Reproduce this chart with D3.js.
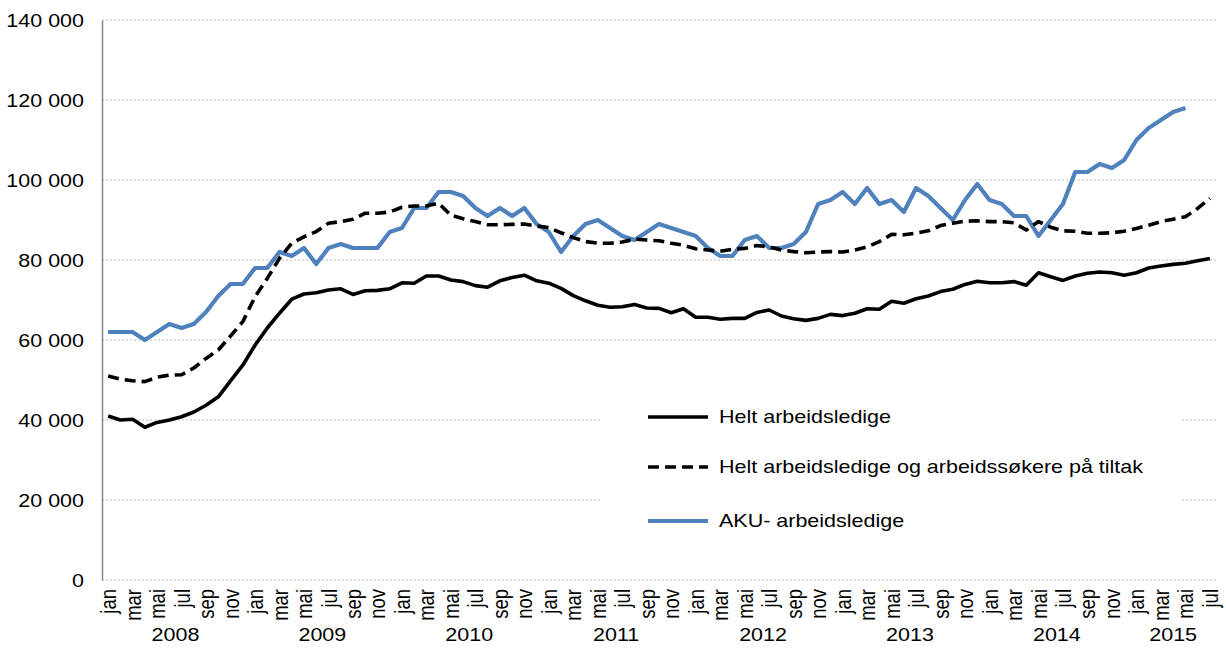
<!DOCTYPE html>
<html><head><meta charset="utf-8">
<script src="https://cdn.jsdelivr.net/npm/d3@7/dist/d3.min.js"></script>
<style>html,body{margin:0;padding:0;background:#fff;}svg{display:block;font-family:"Liberation Sans",Arial,sans-serif;}</style>
</head><body>
<svg id="c" width="1226" height="666"></svg>
<script>
const monthNames = ["jan","feb","mar","apr","mai","jun","jul","aug","sep","okt","nov","des"];
const years = ["2008","2009","2010","2011","2012","2013","2014","2015"];
const yTicks = [0,20000,40000,60000,80000,100000,120000,140000];
const seriesNames = ["Helt arbeidsledige","Helt arbeidsledige og arbeidssøkere på tiltak","AKU- arbeidsledige"];

const helt = [
41000,40000,40200,38200,39400,40000,40800,42000,43700,45800,49800,53700,
58700,63000,66700,70200,71500,71800,72500,72800,71400,72300,72400,72800,
74300,74200,76000,76000,75000,74600,73600,73200,74800,75600,76200,74800,
74200,72900,71100,69800,68700,68200,68300,68900,68000,67900,66800,67800,
65700,65700,65200,65400,65400,66900,67500,66000,65300,64900,65400,66400,
66100,66700,67800,67700,69700,69200,70300,71000,72100,72700,73900,74700,
74300,74300,74600,73700,76800,75800,74900,76000,76700,77000,76800,76200,
76800,78000,78500,78900,79200,79800,80400];
const tiltak = [
51000,50200,49800,49600,50700,51200,51300,53000,55400,57500,61000,64600,
70800,75400,80400,84200,85800,87100,89200,89600,90200,91700,91700,92000,
93200,93500,93500,94200,91200,90300,89600,88800,88800,88900,89000,88500,
88100,86800,85600,84600,84200,84200,84500,85200,85000,84800,84200,83700,
82800,82500,82200,82700,82900,83600,83300,82500,82100,81800,82000,82100,
82000,82500,83300,84600,86400,86300,86700,87300,88600,89200,89700,89800,
89600,89600,89300,87500,89600,88200,87300,87200,86700,86700,86800,87200,
87900,88700,89600,90200,90800,92900,95400];
const aku = [
62000,62000,62000,60000,62000,64000,63000,64000,67000,71000,74000,74000,
78000,78000,82000,81000,83000,79000,83000,84000,83000,83000,83000,87000,
88000,93000,93000,97000,97000,96000,93000,91000,93000,91000,93000,89000,
87000,82000,86000,89000,90000,88000,86000,85000,87000,89000,88000,87000,
86000,83000,81000,81000,85000,86000,83000,83000,84000,87000,94000,95000,
97000,94000,98000,94000,95000,92000,98000,96000,93000,90000,95000,99000,
95000,94000,91000,91000,86000,90000,94000,102000,102000,104000,103000,105000,
110000,113000,115000,117000,118000];

const nMonths = helt.length;
const idx = d3.range(nMonths);
const label = i => monthNames[i % 12];

const svg = d3.select("#c");
const L = 102, R = 1216, T = 20, B = 580;
const x = d3.scalePoint().domain(idx).range([L, R]).padding(0.5);
const y = d3.scaleLinear().domain([0, 140000]).range([B, T]);
const FS = 18.5;     // glyph height scale
const SX = 1.162;    // horizontal stretch of the reference text
const FF = "Liberation Sans, Arial, sans-serif";

// gridlines
svg.append("g").selectAll("line").data(yTicks).join("line")
  .attr("x1", L).attr("x2", R)
  .attr("y1", d => y(d)).attr("y2", d => y(d))
  .attr("stroke", "#bdbdbd").attr("stroke-width", 1).attr("stroke-dasharray", "2,2");

// y axis
const yAxis = d3.axisLeft(y).tickValues(yTicks).tickSize(0)
  .tickFormat(d => d3.format(",")(d).replace(/,/g, " "));
const gy = svg.append("g").attr("transform", `translate(${L},0)`).call(yAxis);
gy.select(".domain").attr("stroke", "#868686").attr("stroke-width", 1.5);
gy.selectAll("text").attr("font-size", FS).attr("fill", "#000").attr("font-family", FF)
  .attr("x", 0).attr("dy", "0.33em")
  .attr("transform", `translate(-18,0) scale(${SX},1)`);

// x axis month labels
const xAxis = d3.axisBottom(x).tickValues(idx.filter(i => i % 2 === 0)).tickSize(0).tickFormat(label);
const gx = svg.append("g").attr("transform", `translate(0,${B})`).call(xAxis);
gx.select(".domain").remove();
gx.selectAll("text")
  .attr("font-size", FS).attr("fill", "#000").attr("font-family", FF)
  .attr("text-anchor", "end")
  .attr("transform", `scale(${SX},1) rotate(-90)`)
  .attr("x", -9).attr("y", 0).attr("dy", "0.35em");

// year labels
svg.append("g").selectAll("text").data(years).join("text")
  .attr("transform", (d, k) => {
    const first = k * 12, last = Math.min(k * 12 + 11, nMonths - 1);
    return `translate(${(x(first) + x(last)) / 2},641) scale(${SX},1)`;
  })
  .attr("text-anchor", "middle").attr("font-size", FS).attr("font-family", FF).text(d => d);

// lines
const line = d3.line().x((d, i) => x(i)).y(d => y(d));
svg.append("path").datum(aku).attr("d", line).attr("fill", "none")
  .attr("stroke", "#4f81bd").attr("stroke-width", 4.2).attr("stroke-linejoin", "round");
svg.append("path").datum(tiltak).attr("d", line).attr("fill", "none")
  .attr("stroke", "#000").attr("stroke-width", 3.6).attr("stroke-dasharray", "11,6").attr("stroke-linejoin", "round");
svg.append("path").datum(helt).attr("d", line).attr("fill", "none")
  .attr("stroke", "#000").attr("stroke-width", 3.6).attr("stroke-linejoin", "round");

// legend
const lg = svg.append("g");
lg.append("rect").attr("x", 600).attr("y", 388).attr("width", 580).attr("height", 162).attr("fill", "#fff");
const legendY = [417, 467, 521];
const styles = [
  {stroke: "#000", w: 3.6, dash: null},
  {stroke: "#000", w: 3.6, dash: "11,6"},
  {stroke: "#4f81bd", w: 4.2, dash: null}
];
seriesNames.forEach((name, k) => {
  lg.append("line").attr("x1", 648).attr("x2", 708).attr("y1", legendY[k]).attr("y2", legendY[k])
    .attr("stroke", styles[k].stroke).attr("stroke-width", styles[k].w)
    .attr("stroke-dasharray", styles[k].dash);
  lg.append("text").attr("transform", `translate(719,${legendY[k]}) scale(${SX},1)`)
    .attr("dy", "0.35em").attr("font-size", FS).attr("font-family", FF).text(name);
});
</script>
</body></html>
